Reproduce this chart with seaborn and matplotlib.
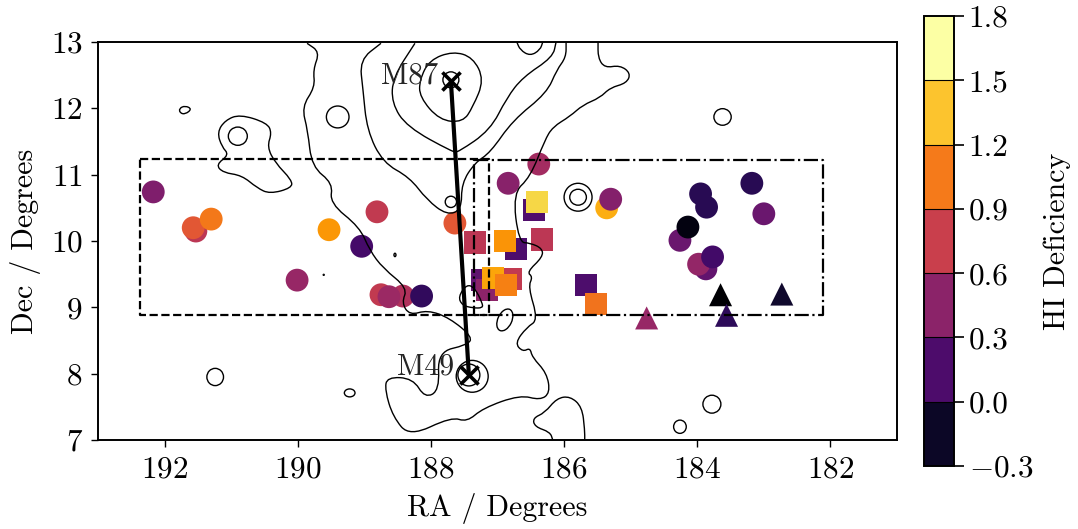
import numpy as np
import pandas as pd
import seaborn as sns
import matplotlib
matplotlib.use('Agg')
import matplotlib.pyplot as plt
from matplotlib.colors import ListedColormap, BoundaryNorm, Normalize
from matplotlib.cm import ScalarMappable
from matplotlib.patches import Ellipse, PathPatch
from matplotlib.path import Path

# galaxies (RA, Dec, HI deficiency)
circle_ra = [192.17, 191.53, 191.57, 191.30, 189.53, 188.81, 189.04, 187.64, 190.01, 188.75, 188.42, 188.63, 188.14,
             186.38, 186.84, 185.36, 185.30, 183.95, 183.86, 183.18, 183.00, 184.26, 184.14, 183.87, 183.98, 183.77]
circle_dec = [10.74, 10.15, 10.20, 10.33, 10.17, 10.44, 9.92, 10.27, 9.41, 9.19, 9.17, 9.16, 9.17,
              11.16, 10.87, 10.50, 10.63, 10.71, 10.51, 10.87, 10.41, 10.01, 10.21, 9.58, 9.65, 9.76]
circle_def = [0.435, 0.75, 1.00, 1.17, 1.32, 0.79, 0.14, 1.00, 0.56, 0.79, 0.69, 0.58, 0.04,
              0.62, 0.48, 1.42, 0.46, 0.00, 0.00, 0.00, 0.33, 0.33, -0.24, 0.29, 0.54, 0.12]

square_ra = [187.34, 186.72, 186.89, 186.33, 186.45, 186.41, 187.23, 187.16, 186.80, 187.07, 186.87, 185.67, 185.52]
square_dec = [9.98, 9.88, 10.00, 10.02, 10.47, 10.59, 9.41, 9.26, 9.43, 9.44, 9.34, 9.34, 9.05]
square_def = [0.75, 0.18, 1.30, 0.75, 0.20, 1.59, 0.27, 0.50, 0.79, 1.38, 1.21, 0.18, 1.15]

triangle_ra = [184.76, 183.65, 183.56, 182.73]
triangle_dec = [8.84, 9.19, 8.88, 9.20]
triangle_def = [0.56, -0.30, 0.02, -0.13]

# M87 / M49
center_names = ['M87', 'M49']
center_ra = [187.70, 187.43]
center_dec = [12.41, 7.98]

# search boxes
box1_ra = [192.37, 187.13, 187.13, 192.37, 192.37]
box1_dec = [11.23, 11.23, 8.88, 8.88, 11.23]
box2_ra = [187.35, 182.11, 182.11, 187.35, 187.35]
box2_dec = [11.22, 11.22, 8.88, 8.88, 11.22]

# contours traced by eye
cont_a_ra = [189.86, 189.67, 189.77, 189.74, 189.94, 189.85, 189.79, 189.47, 189.52, 189.07, 188.92, 188.72, 188.35,
             188.44, 188.32, 188.05, 187.72, 187.37, 187.46, 187.90, 187.87, 188.09, 188.27, 188.66, 188.69, 188.57,
             188.32, 187.69, 187.46, 187.22, 186.66, 186.36, 186.21, 186.26, 186.48, 186.51, 186.62, 186.74, 186.56,
             186.39, 186.54, 186.47, 186.56, 186.32, 186.33, 186.51, 186.68, 186.77, 186.51, 186.29, 186.17, 185.91,
             185.72, 185.46, 185.31, 185.06, 185.00, 185.16, 185.39, 185.49, 185.49]
cont_a_dec = [12.98, 12.85, 12.58, 12.32, 12.02, 11.67, 11.12, 10.87, 10.57, 10.21, 9.86, 9.59, 9.29,
              9.07, 8.88, 8.96, 8.84, 8.55, 8.43, 8.33, 7.75, 7.63, 7.93, 7.95, 7.75, 7.35,
              7.05, 7.35, 7.27, 7.48, 7.68, 7.60, 7.71, 8.01, 8.25, 8.39, 8.33, 8.46, 8.70,
              8.81, 9.31, 9.46, 9.53, 9.76, 9.89, 9.97, 9.98, 10.72, 10.96, 11.52, 11.72, 11.88,
              12.05, 12.16, 12.31, 12.38, 12.53, 12.65, 12.61, 12.76, 13.00]
cont_b_ra = [188.75, 189.07, 189.02, 188.96, 188.72, 188.32, 188.06, 187.76, 187.54, 187.54, 187.34, 187.11, 186.77,
             186.26, 186.11, 185.97, 185.97]
cont_b_dec = [12.98, 12.73, 12.28, 11.67, 11.18, 10.96, 10.62, 10.39, 10.47, 10.87, 11.18, 11.33, 11.82,
              12.23, 12.58, 12.77, 13.00]
cont_c_ra = [188.24, 188.57, 188.59, 188.36, 187.67, 187.59, 187.11, 186.86, 186.62, 186.17, 186.12]
cont_c_dec = [12.98, 12.47, 12.08, 11.72, 11.34, 11.34, 11.67, 12.16, 12.47, 12.77, 13.00]
cont_top_ra = [186.71, 186.66, 186.51, 186.36, 186.32]
cont_top_dec = [13.00, 12.88, 12.79, 12.88, 13.00]
cont_low_ra = [186.17, 186.21, 186.44, 186.47, 186.29, 186.11, 185.91, 185.73, 185.69, 185.69]
cont_low_dec = [7.00, 7.12, 7.20, 7.33, 7.41, 7.63, 7.66, 7.50, 7.15, 7.00]

loop_d_ra = [187.67, 187.37, 187.20, 187.37, 187.52, 187.87, 188.17, 188.17, 188.02]
loop_d_dec = [12.86, 12.77, 12.43, 12.02, 11.79, 11.82, 12.17, 12.43, 12.73]
loop_e_ra = [191.78, 191.69, 191.59, 191.69, 191.77]
loop_e_dec = [12.00, 12.04, 11.99, 11.91, 11.93]
loop_f_ra = [190.87, 190.46, 190.39, 190.46, 190.34, 190.09, 190.09, 190.42, 190.61, 190.84, 191.12, 191.23, 191.03,
             191.14, 191.21, 191.09]
loop_f_dec = [11.91, 11.78, 11.63, 11.42, 11.18, 10.92, 10.80, 10.71, 10.80, 10.99, 11.03, 11.15, 11.30,
              11.42, 11.64, 11.82]
loop_g_ra = [187.59, 187.46, 187.34, 187.23, 187.22, 187.37, 187.53]
loop_g_dec = [9.16, 9.35, 9.29, 9.07, 8.99, 8.99, 9.03]

# small round contours
ring_ra = [190.90, 189.40, 191.24, 189.22, 185.79, 185.79, 183.62, 183.78, 184.26, 187.38, 187.43, 187.70, 187.70,
           186.89, 188.54, 189.61]
ring_dec = [11.58, 11.87, 7.95, 7.71, 10.66, 10.66, 11.87, 7.54, 7.20, 7.96, 7.98, 10.59, 12.43,
            8.81, 9.79, 9.49]
ring_w = [0.285, 0.34, 0.25, 0.16, 0.42, 0.25, 0.26, 0.27, 0.19, 0.48, 0.33, 0.17, 0.24, 0.35, 0.03, 0.015]
ring_h = [0.275, 0.33, 0.26, 0.12, 0.42, 0.24, 0.25, 0.27, 0.20, 0.48, 0.33, 0.17, 0.24, 0.21, 0.05, 0.015]
ring_ang = [0, 0, 0, 0, 0, 0, 0, 0, 0, 0, 0, 0, 0, 115, 0, 0]

# colour bar
levels = [-0.3, 0.0, 0.3, 0.6, 0.9, 1.2, 1.5, 1.8]
level_labels = ['$-0.3$', '0.0', '0.3', '0.6', '0.9', '1.2', '1.5', '1.8']
band_colors = ['#0c0726', '#4d0c6b', '#8b2369', '#c93f4c', '#f57a1a', '#fcc42e', '#fcffa4']

x_ticks = [192, 190, 188, 186, 184, 182]
y_ticks = [7, 8, 9, 10, 11, 12, 13]


def draw_contour(ax, ra, dec, closed=False):
    # quadratic corners so the traced outline comes out smooth
    pts = np.column_stack([ra, dec])
    mids = (pts[:-1] + pts[1:]) / 2
    if closed:
        start = (pts[-1] + pts[0]) / 2
        verts = [start]
        for p, m in zip(pts, list(mids) + [start]):
            verts += [p, m]
    else:
        verts = [pts[0], mids[0]]
        for p, m in zip(pts[1:-1], mids[1:]):
            verts += [p, m]
        verts.append(pts[-1])
    codes = [Path.MOVETO] + [Path.CURVE3] * (len(verts) - 1)
    if not closed:
        codes[1] = Path.LINETO
        codes[-1] = Path.LINETO
    ax.add_patch(PathPatch(Path(verts, codes), fill=False, edgecolor='k', linewidth=1.0, zorder=4))


def main():
    sns.set_style('ticks')
    plt.rcParams['font.family'] = ['cmr10']
    plt.rcParams['mathtext.fontset'] = 'cm'
    plt.rcParams['axes.unicode_minus'] = False
    plt.rcParams['axes.formatter.use_mathtext'] = True
    fs = 21.5
    tick_fs = 22.5

    fig = plt.figure(figsize=(10.78, 5.29), dpi=100)
    ax = fig.add_axes([98 / 1078, 1 - 440 / 529, 799 / 1078, 398 / 529])
    cax = fig.add_axes([924 / 1078, 1 - 466 / 529, 30 / 1078, 450 / 529])

    df_circle = pd.DataFrame({'ra': circle_ra, 'dec': circle_dec, 'hi': circle_def})
    df_square = pd.DataFrame({'ra': square_ra, 'dec': square_dec, 'hi': square_def})
    df_triangle = pd.DataFrame({'ra': triangle_ra, 'dec': triangle_dec, 'hi': triangle_def})

    norm = Normalize(-0.3, 1.8)
    for df, marker, size in [(df_circle, 'o', 270), (df_square, 's', 262), (df_triangle, '^', 275)]:
        sns.scatterplot(data=df, x='ra', y='dec', hue='hi', palette='inferno', hue_norm=norm, marker=marker,
                        s=size, linewidth=0, legend=False, zorder=3, ax=ax)

    for ra, dec in [(cont_a_ra, cont_a_dec), (cont_b_ra, cont_b_dec), (cont_c_ra, cont_c_dec),
                    (cont_top_ra, cont_top_dec), (cont_low_ra, cont_low_dec)]:
        draw_contour(ax, ra, dec)
    for ra, dec in [(loop_d_ra, loop_d_dec), (loop_e_ra, loop_e_dec), (loop_f_ra, loop_f_dec),
                    (loop_g_ra, loop_g_dec)]:
        draw_contour(ax, ra, dec, closed=True)
    for r, d, w, h, a in zip(ring_ra, ring_dec, ring_w, ring_h, ring_ang):
        ax.add_patch(Ellipse((r, d), w, h, angle=a, fill=False, edgecolor='k', linewidth=1.0, zorder=4))

    sns.lineplot(x=box1_ra, y=box1_dec, sort=False, estimator=None, color='k', linestyle='--', linewidth=1.6, zorder=5, ax=ax)
    sns.lineplot(x=box2_ra, y=box2_dec, sort=False, estimator=None, color='k', linestyle='-.', linewidth=1.6, zorder=5, ax=ax)
    sns.lineplot(x=center_ra, y=center_dec, sort=False, estimator=None, color='k', linewidth=3, zorder=6, ax=ax)
    sns.scatterplot(x=center_ra, y=center_dec, marker='x', color='k', s=170, linewidth=2.6, legend=False, zorder=7, ax=ax)

    ax.text(187.89, 12.38, center_names[0], fontsize=fs, ha='right', va='baseline', zorder=6)
    ax.text(187.65, 7.98, center_names[1], fontsize=fs, ha='right', va='baseline', zorder=6)

    ax.set_xlim(193, 181)
    ax.set_ylim(7, 13)
    ax.set_xticks(x_ticks)
    ax.set_yticks(y_ticks)
    ax.tick_params(labelsize=tick_fs, width=1.0, length=5, pad=6, direction='out', color='k', labelcolor='k')
    ax.set_xlabel('RA / Degrees', fontsize=fs, color='k', labelpad=7)
    ax.set_ylabel('Dec / Degrees', fontsize=fs, color='k', labelpad=7)
    for s in ax.spines.values():
        s.set_visible(True)
        s.set_linewidth(1.4)
        s.set_color('k')

    sm = ScalarMappable(norm=BoundaryNorm(levels, 7), cmap=ListedColormap(band_colors))
    cbar = fig.colorbar(sm, cax=cax, ticks=levels, drawedges=True)
    cbar.ax.set_yticklabels(level_labels)
    cbar.ax.tick_params(labelsize=tick_fs, width=1.2, length=7, color='k', labelcolor='k')
    cbar.dividers.set_color('k')
    cbar.dividers.set_linewidth(0.8)
    cbar.outline.set_linewidth(1.4)
    cbar.outline.set_edgecolor('k')
    cbar.set_label('HI Deficiency', fontsize=fs, color='k', labelpad=7)

    fig.savefig('out.png', dpi=100)


if __name__ == "__main__":
    main()
